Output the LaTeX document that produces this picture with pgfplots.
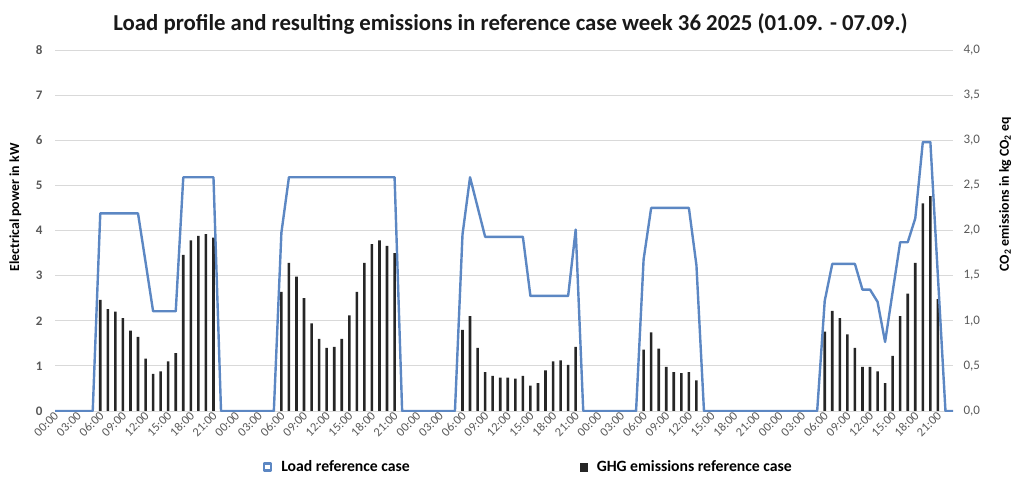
\documentclass[border=0pt]{standalone}
\usepackage{pgfplots}
\pgfplotsset{compat=1.18}
\usepackage{fontspec}
\setmainfont{Carlito}

\definecolor{loadblue}{RGB}{92,135,195}
\definecolor{barblack}{RGB}{38,38,38}
\definecolor{ticktext}{RGB}{89,89,89}
\definecolor{gridgray}{RGB}{217,217,217}

\begin{document}
\begin{tikzpicture}
\path[use as bounding box] (0pt,0pt) rectangle (1024pt,500pt);

% emissions (right axis) with bars, gridlines and hour labels
\begin{axis}[
  at={(55pt,89pt)}, anchor=south west,
  scale only axis, width=898pt, height=361pt,
  xmin=0, xmax=119, ymin=0, ymax=4,
  axis y line*=right, axis x line*=bottom,
  y axis line style={draw=none},
  x axis line style={draw=gridgray, line width=0.8pt},
  major tick length=0pt,
  ytick={0,0.5,...,4},
  ymajorgrids, grid style={gridgray, line width=0.8pt},
  /pgf/number format/.cd, fixed, fixed zerofill, precision=1, use comma, assume math mode=true,
  /pgfplots/.cd,
  yticklabel style={font=\fontsize{13}{15}\selectfont, text=ticktext, xshift=7pt},
  xtick={0,3,...,117},
  xticklabels={00:00,03:00,06:00,09:00,12:00,15:00,18:00,21:00,
               00:00,03:00,06:00,09:00,12:00,15:00,18:00,21:00,
               00:00,03:00,06:00,09:00,12:00,15:00,18:00,21:00,
               00:00,03:00,06:00,09:00,12:00,15:00,18:00,21:00,
               00:00,03:00,06:00,09:00,12:00,15:00,18:00,21:00},
  xticklabel style={font=\fontsize{12.5}{14}\selectfont, text=ticktext, rotate=45, anchor=east, inner sep=1pt, yshift=-3pt},
  ylabel={\textbf{CO\textsubscript{2} emissions in kg CO\textsubscript{2} eq}},
  ylabel style={at={(axis description cs:1.058,0.377)}, anchor=west, font=\fontsize{13.8}{16}\selectfont, text=black},
]
\addplot[ybar, bar width=2.6pt, fill=barblack, draw=none] coordinates {
  % Mon
  (6,1.23) (7,1.13) (8,1.10) (9,1.03) (10,0.89) (11,0.82) (12,0.58) (13,0.41)
  (14,0.44) (15,0.55) (16,0.64) (17,1.73) (18,1.89) (19,1.94) (20,1.96) (21,1.92)
  % Tue
  (30,1.32) (31,1.64) (32,1.49) (33,1.25) (34,0.97) (35,0.80) (36,0.70) (37,0.71)
  (38,0.80) (39,1.06) (40,1.32) (41,1.64) (42,1.85) (43,1.89) (44,1.83) (45,1.75)
  % Wed
  (54,0.90) (55,1.05) (56,0.70) (57,0.43) (58,0.39) (59,0.37) (60,0.37) (61,0.36)
  (62,0.39) (63,0.28) (64,0.31) (65,0.45) (66,0.55) (67,0.56) (68,0.51) (69,0.71)
  % Thu
  (78,0.68) (79,0.87) (80,0.69) (81,0.49) (82,0.43) (83,0.42) (84,0.43) (85,0.34)
  % Sun
  (102,0.88) (103,1.11) (104,1.03) (105,0.85) (106,0.70) (107,0.49) (108,0.49) (109,0.44)
  (110,0.31) (111,0.61) (112,1.05) (113,1.30) (114,1.64) (115,2.30) (116,2.38) (117,1.24)
};
\end{axis}

% load (left axis)
\begin{axis}[
  at={(55pt,89pt)}, anchor=south west,
  scale only axis, width=898pt, height=361pt,
  xmin=0, xmax=119, ymin=0, ymax=8,
  axis y line*=left, hide x axis,
  y axis line style={draw=none},
  major tick length=0pt,
  ytick={0,1,...,8},
  /pgf/number format/assume math mode=true,
  yticklabel style={font=\bfseries\fontsize{13}{15}\selectfont, text=ticktext, xshift=-9pt},
  ylabel={\textbf{Electrical power in kW}},
  ylabel style={at={(axis description cs:-0.044,0.377)}, anchor=west, font=\fontsize{13.8}{16}\selectfont, text=black},
  legend style={at={(axis description cs:0.2316,-0.155)}, anchor=west, draw=none, fill=none,
    inner sep=0pt, legend columns=2, font=\bfseries\fontsize{15.7}{18}\selectfont, text=black,
    /tikz/every even column/.append style={column sep=167pt}},
]
\addplot[loadblue, line width=2.4pt, line join=round,
  legend image code/.code={
    \path[draw=none, fill=none] (0pt,0pt) -- (16pt,0pt);
    \draw[loadblue, line width=2.2pt, fill=white] (1pt,-3.5pt) rectangle (8pt,3.5pt);}]
  coordinates {
  (0,0) (1,0) (2,0) (3,0) (4,0) (5,0) (6,4.38) (7,4.38) (8,4.38) (9,4.38) (10,4.38) (11,4.38)
  (12,3.30) (13,2.21) (14,2.21) (15,2.21) (16,2.21) (17,5.18) (18,5.18) (19,5.18) (20,5.18) (21,5.18) (22,0) (23,0)
  (24,0) (25,0) (26,0) (27,0) (28,0) (29,0) (30,3.95) (31,5.18) (32,5.18) (33,5.18) (34,5.18) (35,5.18)
  (36,5.18) (37,5.18) (38,5.18) (39,5.18) (40,5.18) (41,5.18) (42,5.18) (43,5.18) (44,5.18) (45,5.18) (46,0) (47,0)
  (48,0) (49,0) (50,0) (51,0) (52,0) (53,0) (54,3.91) (55,5.18) (56,4.52) (57,3.86) (58,3.86) (59,3.86)
  (60,3.86) (61,3.86) (62,3.86) (63,2.55) (64,2.55) (65,2.55) (66,2.55) (67,2.55) (68,2.55) (69,4.02) (70,0) (71,0)
  (72,0) (73,0) (74,0) (75,0) (76,0) (77,0) (78,3.36) (79,4.50) (80,4.50) (81,4.50) (82,4.50) (83,4.50)
  (84,4.50) (85,3.23) (86,0) (87,0) (88,0) (89,0) (90,0) (91,0) (92,0) (93,0) (94,0) (95,0)
  (96,0) (97,0) (98,0) (99,0) (100,0) (101,0) (102,2.44) (103,3.26) (104,3.26) (105,3.26) (106,3.26) (107,2.69)
  (108,2.69) (109,2.42) (110,1.53) (111,2.64) (112,3.74) (113,3.74) (114,4.27) (115,5.96) (116,5.96) (117,2.98) (118,0) (119,0)
};
\addlegendentry{Load reference case}
\addlegendimage{legend image code/.code={
    \path[draw=none, fill=none] (0pt,0pt) -- (16pt,0pt);
    \fill[barblack] (1pt,-3.8pt) rectangle (8.5pt,3.8pt);}}
\addlegendentry{GHG emissions reference case}
\end{axis}

\node[font=\bfseries\fontsize{22.8}{26}\selectfont, text=black!90] at (510.5pt,476pt)
  {Load profile and resulting emissions in reference case week 36 2025 (01.09. - 07.09.)};
\end{tikzpicture}
\end{document}
